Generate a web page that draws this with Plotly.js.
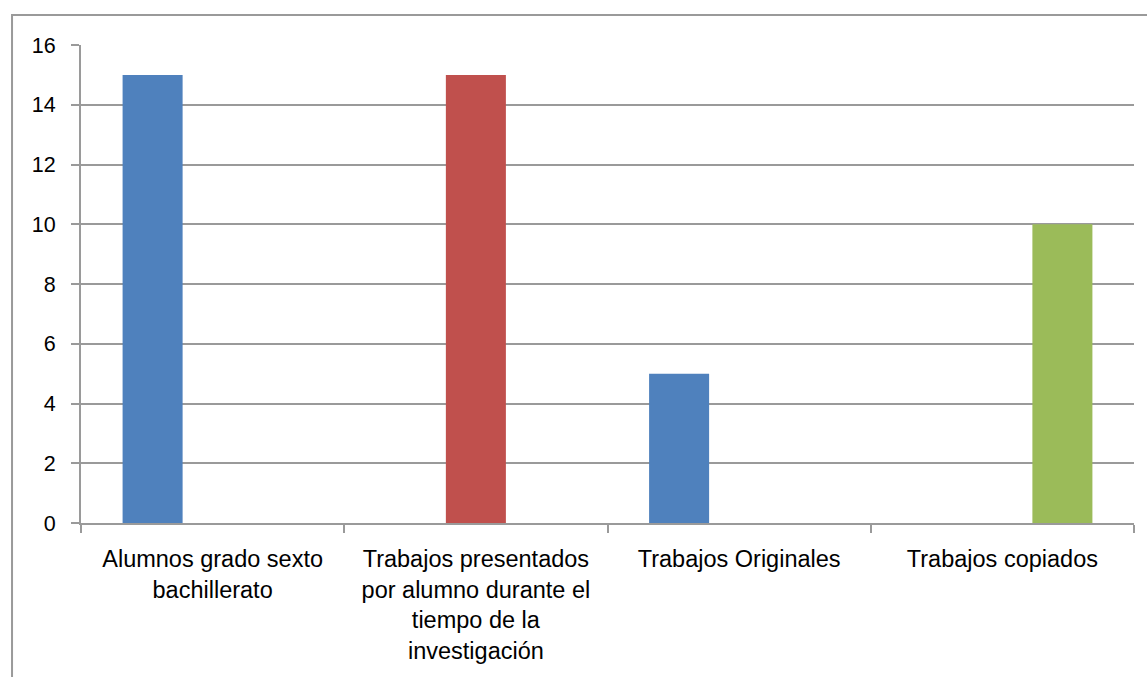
<!DOCTYPE html>
<html>
<head>
<meta charset="utf-8">
<script src="https://cdn.plot.ly/plotly-3.0.1.min.js"></script>
<style>
html,body{margin:0;padding:0;background:#fff;}
#chart{width:1147px;height:677px;}
</style>
</head>
<body>
<div id="chart"></div>
<script>
const categories = [
  "Alumnos grado sexto<br>bachillerato",
  "Trabajos presentados<br>por alumno durante el<br>tiempo de la<br>investigación",
  "Trabajos Originales",
  "Trabajos copiados"
];
const series1 = [15, null, 5, null];
const series2 = [null, 15, null, null];
const series3 = [null, null, null, 10];
const yTicks = [0, 2, 4, 6, 8, 10, 12, 14, 16];

const family = "Liberation Sans, Arial, sans-serif";
const xFont = {family: family, size: 23.5, color: "#000"};
const yFont = {family: family, size: 21.5, color: "#000"};
const gray = "#9a9a9a";

const traces = [
  {type: "bar", x: categories, y: series1, marker: {color: "#4F81BD"}, name: "Serie 1"},
  {type: "bar", x: categories, y: series2, marker: {color: "#C0504D"}, name: "Serie 2"},
  {type: "bar", x: categories, y: series3, marker: {color: "#9BBB59"}, name: "Serie 3"}
];

const layout = {
  width: 1147, height: 677,
  margin: {l: 81, r: 13, t: 45, b: 154},
  paper_bgcolor: "#fff", plot_bgcolor: "#fff",
  showlegend: false,
  barmode: "group",
  bargap: 0.316,
  bargroupgap: 0,
  font: xFont,
  xaxis: {
    type: "category",
    tickson: "boundaries",
    ticks: "outside", ticklen: 8, tickcolor: gray, tickwidth: 2,
    showline: true, linecolor: gray, linewidth: 2,
    showgrid: false,
    tickfont: xFont,
    ticklabelstandoff: 14,
    fixedrange: true
  },
  yaxis: {
    range: [0, 16],
    tickvals: yTicks,
    ticktext: yTicks.map(String),
    ticks: "outside", ticklen: 8, tickcolor: gray, tickwidth: 2,
    showline: true, linecolor: gray, linewidth: 2,
    showgrid: true, gridcolor: gray, gridwidth: 2,
    zeroline: false,
    tickfont: yFont,
    ticklabelstandoff: 11,
    fixedrange: true
  },
  shapes: [{
    type: "rect", xref: "paper", yref: "paper",
    x0: -0.0655, x1: 1.2, y0: -0.6, y1: 1.0628,
    line: {color: gray, width: 2}, fillcolor: "rgba(0,0,0,0)", layer: "below"
  }]
};

Plotly.newPlot("chart", traces, layout, {displayModeBar: false, staticPlot: true});
</script>
</body>
</html>
